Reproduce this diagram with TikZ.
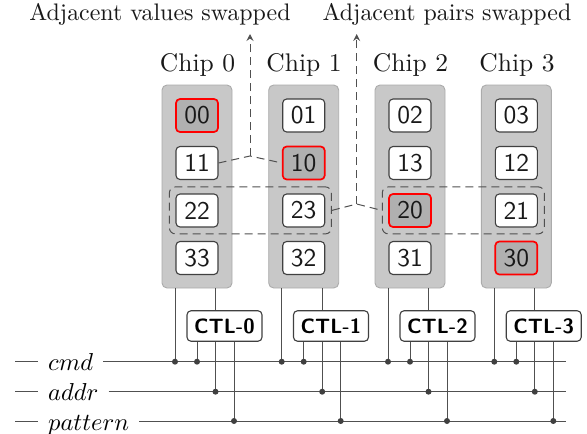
\documentclass[tikz,border=0pt]{standalone}
\usepackage{fontspec}
\usepackage{graphicx}
\usetikzlibrary{arrows.meta}
\definecolor{chipfill}{HTML}{C8C8C8}
\definecolor{chipedge}{HTML}{ABABAB}
\definecolor{hotfill}{HTML}{B0B0B0}
\definecolor{wire}{HTML}{505050}
\newcommand{\topt}[1]{\scalebox{2.39}{#1}}
\newcommand{\bigt}[1]{\scalebox{2.55}{#1}}
\newcommand{\railt}[1]{\scalebox{2.45}{#1}}
\newcommand{\cellt}[1]{\scalebox{2.55}{\sffamily #1}}
\newcommand{\ctlt}[1]{\scalebox{2.07}{\sffamily\bfseries #1}}
\tikzset{
  chipbox/.style={draw=chipedge,fill=chipfill,rounded corners=5pt,line width=.9pt,minimum width=70pt,minimum height=203pt,inner sep=0pt},
  cell/.style={draw=black!75,fill=white,rounded corners=4pt,line width=1.1pt,minimum width=42pt,minimum height=33pt,inner sep=0pt,text=black!90},
  hot/.style={cell,draw=red,fill=hotfill,line width=1.7pt},
  ctl/.style={draw=black!75,fill=white,rounded corners=4pt,line width=1.1pt,minimum width=75pt,minimum height=30.5pt,inner sep=0pt},
  title/.style={inner sep=0pt,text=black!90},
  rail/.style={line width=1pt,draw=wire},
  vwire/.style={line width=1pt,draw=wire},
  railname/.style={inner ysep=0pt,inner xsep=10pt,anchor=west,text height=24pt,text depth=6pt},
  dot/.style={circle,fill=black!75,draw=none,minimum size=6pt,inner sep=0pt},
  swap/.style={dash pattern=on 8pt off 5pt,line width=1pt,draw=wire},
  pairbox/.style={swap,rounded corners=6pt,minimum height=47pt,minimum width=162pt,inner sep=0pt},
  up/.style={-{Stealth[length=7pt,width=7pt,inset=2.5pt]}}
}
\begin{document}
\begin{tikzpicture}[x=1pt,y=-1pt]
\useasboundingbox (0,0) rectangle (587,434);
% titles
\node[title] (tv) at (160,14.5) {\topt{Adjacent values swapped}};
\node[title] (tp) at (447,14.5) {\topt{Adjacent pairs swapped}};
\node[title] (h0) at (197.5,64.5) {\bigt{Chip 0}};
\node[title] (h1) at (304,64.5) {\bigt{Chip 1}};
\node[title] (h2) at (410.5,64.5) {\bigt{Chip 2}};
\node[title] (h3) at (517,64.5) {\bigt{Chip 3}};
% chips
\node[chipbox] (chip0) at (197,186.5) {};
\node[chipbox] (chip1) at (303.7,186.5) {};
\node[chipbox] (chip2) at (410,186.5) {};
\node[chipbox] (chip3) at (516.3,186.5) {};
% rails
\coordinate (cmdL) at (15,361.7);   \coordinate (cmdR) at (566,361.7);
\coordinate (addrL) at (15,391.7);  \coordinate (addrR) at (566,391.7);
\coordinate (patL) at (15,421);     \coordinate (patR) at (566,421);
\node[railname] (cmd) at (38,361.7) {\railt{$cmd$}};
\node[railname] (addr) at (38,391.7) {\railt{$addr$}};
\node[railname] (pat) at (38,421) {\railt{$pattern$}};
\draw[rail] (cmdL) -- (cmd.west |- cmdL);
\draw[rail] (cmd.east |- cmdL) -- (cmdR);
\draw[rail] (addrL) -- (addr.west |- addrL);
\draw[rail] (addr.east |- addrL) -- (addrR);
\draw[rail] (patL) -- (pat.west |- patL);
\draw[rail] (pat.east |- patL) -- (patR);
% controllers
\node[ctl] (ctl0) at (224.5,326) {\ctlt{CTL-0}};
\node[ctl] (ctl1) at (331,326) {\ctlt{CTL-1}};
\node[ctl] (ctl2) at (437.5,326) {\ctlt{CTL-2}};
\node[ctl] (ctl3) at (543.7,326) {\ctlt{CTL-3}};
% wiring
\foreach \i in {0,1,2,3}{
  \path (chip\i.south) ++(-22,0) coordinate (a\i);
  \path (chip\i.south) ++(18.5,0) coordinate (b\i);
  \path (chip\i.south) ++(0,0) coordinate (m\i);
  \path (chip\i.south) ++(37,0) coordinate (p\i);
  \draw[vwire] (a\i) -- (a\i |- cmdL) node[dot] {};
  \draw[vwire] (b\i) -- (b\i |- ctl\i.north);
  \draw[vwire] (m\i |- ctl\i.south) -- (m\i |- cmdL) node[dot] {};
  \draw[vwire] (b\i |- ctl\i.south) -- (b\i |- addrL) node[dot] {};
  \draw[vwire] (p\i |- ctl\i.south) -- (p\i |- patL) node[dot] {};
}
% cells
\node[hot]  (n00) at (197,115.5) {\cellt{00}};
\node[cell] (n11) at (197,163) {\cellt{11}};
\node[cell] (n22) at (197,210.5) {\cellt{22}};
\node[cell] (n33) at (197,258) {\cellt{33}};
\node[cell] (n01) at (303.7,115.5) {\cellt{01}};
\node[hot]  (n10) at (303.7,163) {\cellt{10}};
\node[cell] (n23) at (303.7,210.5) {\cellt{23}};
\node[cell] (n32) at (303.7,258) {\cellt{32}};
\node[cell] (n02) at (410,115.5) {\cellt{02}};
\node[cell] (n13) at (410,163) {\cellt{13}};
\node[hot]  (n20) at (410,210.5) {\cellt{20}};
\node[cell] (n31) at (410,258) {\cellt{31}};
\node[cell] (n03) at (516.3,115.5) {\cellt{03}};
\node[cell] (n12) at (516.3,163) {\cellt{12}};
\node[cell] (n21) at (516.3,210.5) {\cellt{21}};
\node[hot]  (n30) at (516.3,258) {\cellt{30}};
% swaps
\node[pairbox,draw=wire] (pairA) at (250.4,210.4) {};
\node[pairbox,draw=wire] (pairB) at (463.3,210.4) {};
\coordinate (v1) at (250,156);
\coordinate (t1) at (250,34);
\coordinate (v2) at (356.7,204);
\coordinate (t2) at (356.7,34);
\draw[swap] (n11.east) -- (v1) -- (n10.west);
\draw[swap,up] (v1) -- (t1);
\draw[swap] (pairA.east) -- (v2) -- (pairB.west);
\draw[swap,up] (v2) -- (t2);
\end{tikzpicture}
\end{document}
